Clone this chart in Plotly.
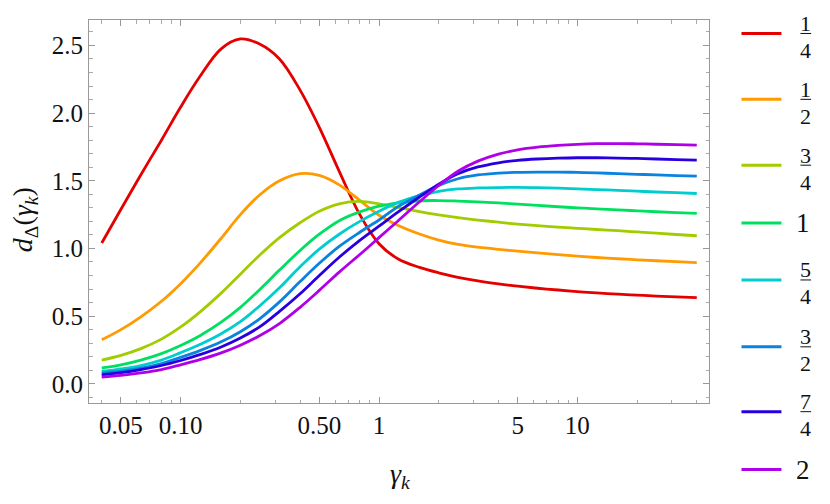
import math
import plotly.graph_objects as go

# gamma_k sample points (log axis)
gamma = [0.04, 0.05, 0.063, 0.08, 0.1, 0.125, 0.16, 0.2, 0.25, 0.315, 0.4, 0.5, 0.63, 0.8,
         1.0, 1.25, 1.6, 2.0, 2.5, 3.15, 4, 5, 6.3, 8, 10, 12.5, 16, 20, 25, 31.5, 40]

# d_Delta(gamma_k), one list per Delta
d_1_4 = [1.04, 1.29, 1.545, 1.80, 2.045, 2.27, 2.475, 2.548, 2.51, 2.40, 2.17, 1.895, 1.57,
         1.25, 1.035, 0.922, 0.86, 0.82, 0.787, 0.760, 0.738, 0.721, 0.706, 0.693, 0.681,
         0.671, 0.662, 0.655, 0.648, 0.642, 0.636]
d_1_2 = [0.325, 0.40, 0.495, 0.61, 0.74, 0.89, 1.075, 1.25, 1.395, 1.50, 1.553, 1.54, 1.47,
         1.355, 1.245, 1.17, 1.107, 1.062, 1.03, 1.009, 0.993, 0.98, 0.967, 0.954, 0.943,
         0.933, 0.924, 0.916, 0.909, 0.902, 0.895]
d_3_4 = [0.175, 0.21, 0.26, 0.33, 0.42, 0.53, 0.67, 0.81, 0.95, 1.08, 1.19, 1.275, 1.33,
         1.348, 1.33, 1.303, 1.272, 1.248, 1.228, 1.21, 1.194, 1.18, 1.168, 1.158, 1.149,
         1.14, 1.131, 1.122, 1.113, 1.103, 1.094]
d_1 = [0.117, 0.14, 0.175, 0.223, 0.283, 0.355, 0.455, 0.565, 0.695, 0.84, 0.985, 1.105, 1.205,
       1.27, 1.312, 1.337, 1.352, 1.354, 1.35, 1.344, 1.336, 1.327, 1.318, 1.308, 1.30,
       1.293, 1.285, 1.278, 1.271, 1.265, 1.259]
d_5_4 = [0.091, 0.11, 0.135, 0.175, 0.23, 0.29, 0.37, 0.46, 0.575, 0.71, 0.865, 0.995, 1.105,
         1.20, 1.275, 1.34, 1.39, 1.422, 1.44, 1.447, 1.45, 1.451, 1.449, 1.445, 1.44,
         1.435, 1.429, 1.423, 1.417, 1.412, 1.406]
d_3_2 = [0.079, 0.093, 0.115, 0.15, 0.195, 0.245, 0.31, 0.385, 0.48, 0.605, 0.755, 0.89, 1.015,
         1.12, 1.21, 1.31, 1.395, 1.465, 1.515, 1.543, 1.557, 1.562, 1.564, 1.564, 1.562,
         1.558, 1.553, 1.548, 1.543, 1.538, 1.534]
d_7_4 = [0.066, 0.082, 0.105, 0.135, 0.172, 0.215, 0.272, 0.338, 0.42, 0.535, 0.665, 0.80, 0.935,
         1.06, 1.165, 1.27, 1.38, 1.475, 1.552, 1.602, 1.633, 1.651, 1.661, 1.667, 1.67,
         1.67, 1.668, 1.665, 1.661, 1.657, 1.652]
d_2 = [0.05, 0.062, 0.08, 0.105, 0.14, 0.178, 0.228, 0.285, 0.355, 0.445, 0.565, 0.69, 0.825,
       0.955, 1.08, 1.205, 1.345, 1.465, 1.57, 1.645, 1.697, 1.728, 1.748, 1.761, 1.769,
       1.774, 1.775, 1.773, 1.77, 1.767, 1.763]

series = [d_1_4, d_1_2, d_3_4, d_1, d_5_4, d_3_2, d_7_4, d_2]
labels = [("1", "4"), ("1", "2"), ("3", "4"), ("1", None),
          ("5", "4"), ("3", "2"), ("7", "4"), ("2", None)]
colors = ["#e50000", "#ff9a00", "#a2cc00", "#00e060",
          "#00cdcd", "#0a82e0", "#2800e0", "#b000e8"]

x_ticks = [0.05, 0.1, 0.5, 1, 5, 10]
x_ticktext = ["0.05", "0.10", "0.50", "1", "5", "10"]
x_minor = [0.04, 0.06, 0.07, 0.08, 0.09, 0.2, 0.3, 0.4, 0.6, 0.7, 0.8, 0.9,
           2, 3, 4, 6, 7, 8, 9, 20, 30, 40]
y_ticks = [0.0, 0.5, 1.0, 1.5, 2.0, 2.5]

FONT = "Liberation Serif"
OFF = 8  # the page body has an 8px margin, so shift everything back by it
W, H = 830 - OFF, 504 - OFF
L, R, T, B = 89 - OFF, 709.5 - OFF, 19.5 - OFF, 403.3 - OFF

fig = go.Figure()
for ys, col, lab in zip(series, colors, labels):
    fig.add_trace(go.Scatter(
        x=gamma, y=ys, mode="lines", showlegend=False,
        name=lab[0] if lab[1] is None else lab[0] + "/" + lab[1],
        line=dict(color=col, width=2.8, shape="spline", smoothing=1.0),
    ))

axis_common = dict(showline=True, linecolor="#999999", linewidth=1, mirror="ticks",
                   ticks="inside", tickcolor="#999999", ticklen=6, showgrid=False,
                   zeroline=False, automargin=False,
                   tickfont=dict(family=FONT, size=25, color="#111111"))

fig.update_xaxes(type="log", range=[math.log10(0.0345), math.log10(46.1)],
                 tickvals=x_ticks, ticktext=x_ticktext,
                 minor=dict(tickvals=x_minor, ticks="inside", ticklen=3.5, tickcolor="#aaaaaa"),
                 **axis_common)
fig.update_yaxes(range=[-0.142, 2.688], tickvals=y_ticks, tickformat=".1f",
                 minor=dict(dtick=0.1, tick0=0, ticks="inside", ticklen=3.5, tickcolor="#aaaaaa"),
                 **axis_common)


def px(xp):
    # page pixel -> paper coordinate
    return (xp - OFF - L) / (R - L)


def py(yp):
    return (B - (yp - OFF)) / (B - T)


def text_ann(x, y, text, size, angle=0):
    return dict(x=px(x), y=py(y), xref="paper", yref="paper", showarrow=False,
                xanchor="center", yanchor="middle", textangle=angle, text=text,
                font=dict(family=FONT, size=size, color="#111111"))


ann = [
    text_ann(400, 476, "<i>γ</i><sub><i>k</i></sub>", 28),
    text_ann(24, 220, "<i>d</i><sub>Δ</sub>(<i>γ</i><sub><i>k</i></sub>)", 28, angle=-90),
]
shapes = []

# legend drawn by hand so the fractions can be stacked
row_y = [33, 99, 165, 223, 280, 347, 412, 470]
for yc, col, (num, den) in zip(row_y, colors, labels):
    shapes.append(dict(type="line", xref="paper", yref="paper",
                       x0=px(742), x1=px(782), y0=py(yc), y1=py(yc),
                       line=dict(color=col, width=3)))
    if den is None:
        ann.append(text_ann(803.5, yc, num, 27))
    else:
        ann.append(text_ann(806.3, yc - 10, num, 22))
        ann.append(text_ann(806.3, yc + 17, den, 22))
        shapes.append(dict(type="line", xref="paper", yref="paper",
                           x0=px(801), x1=px(811.7), y0=py(yc), y1=py(yc),
                           line=dict(color="#111111", width=1)))

fig.update_layout(width=W, height=H, margin=dict(l=L, r=W - R, t=T, b=H - B),
                  plot_bgcolor="white", paper_bgcolor="white",
                  annotations=ann, shapes=shapes)

fig.write_html("out.html")
